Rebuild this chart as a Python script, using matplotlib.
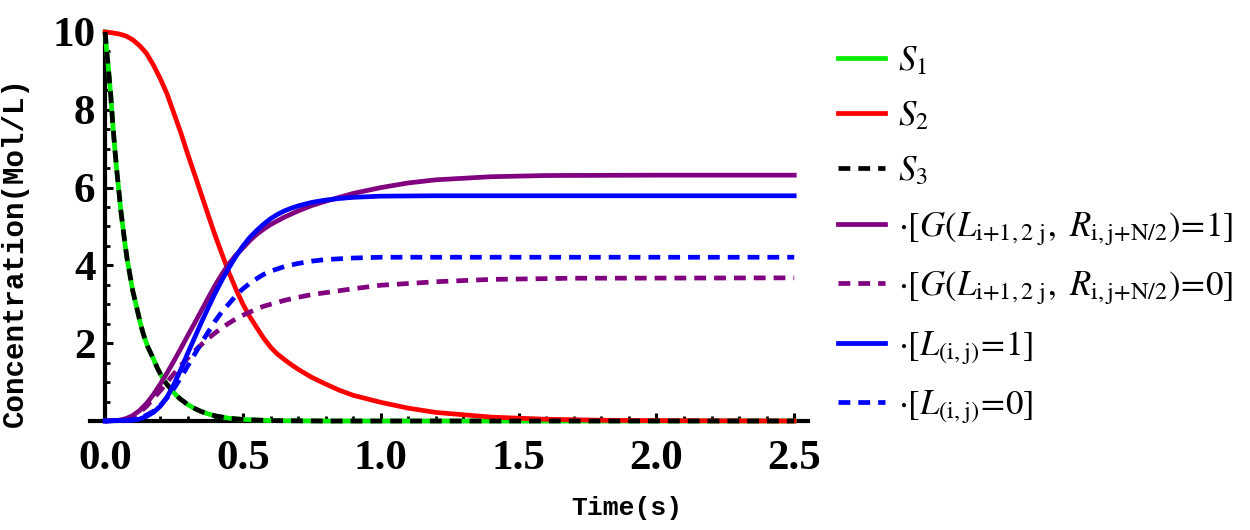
import matplotlib
matplotlib.use('Agg')
import matplotlib.pyplot as plt
from matplotlib.ticker import MultipleLocator, FixedLocator

plt.rcParams['mathtext.fontset'] = 'stix'
plt.rcParams['font.family'] = ['Liberation Serif', 'DejaVu Serif']

## DATA ##

t_s = [0, 0.005, 0.01, 0.015, 0.02, 0.027, 0.035, 0.042, 0.05, 0.057, 0.065,
       0.072, 0.08, 0.09, 0.1, 0.11, 0.12, 0.13, 0.14, 0.155, 0.165, 0.175,
       0.19, 0.205, 0.22, 0.235, 0.25, 0.27, 0.3, 0.325, 0.35, 0.375, 0.4,
       0.45, 0.5, 0.6, 0.8, 1.2, 2.5]
s1 = [10, 9.55, 9.2, 8.8, 8.4, 7.7, 7.0, 6.45, 5.9, 5.4, 4.95,
      4.55, 4.15, 3.75, 3.35, 3.05, 2.75, 2.45, 2.2, 1.9, 1.75, 1.6,
      1.35, 1.15, 0.98, 0.85, 0.72, 0.58, 0.42, 0.32, 0.24, 0.18, 0.13,
      0.07, 0.04, 0.01, 0.0, 0.0, 0.0]
s3 = list(s1)

t_s2 = [0, 0.025, 0.05, 0.075, 0.1, 0.125, 0.15, 0.175, 0.2, 0.225, 0.25,
        0.275, 0.3, 0.325, 0.35, 0.375, 0.4, 0.425, 0.45, 0.475, 0.5, 0.525,
        0.55, 0.575, 0.6, 0.625, 0.65, 0.675, 0.7, 0.75, 0.8, 0.85, 0.9, 1.0,
        1.1, 1.2, 1.4, 1.6, 1.8, 2.0, 2.5]
s2 = [10, 9.98, 9.95, 9.9, 9.8, 9.65, 9.45, 9.15, 8.8, 8.4, 7.9,
      7.4, 6.85, 6.33, 5.8, 5.27, 4.75, 4.27, 3.8, 3.38, 3.0, 2.68,
      2.4, 2.13, 1.9, 1.72, 1.58, 1.45, 1.33, 1.12, 0.95, 0.79, 0.66, 0.48,
      0.33, 0.22, 0.1, 0.045, 0.02, 0.01, 0.0]

t_g1 = [0, 0.05, 0.075, 0.1, 0.125, 0.15, 0.175, 0.2, 0.225, 0.25, 0.275,
        0.3, 0.325, 0.35, 0.375, 0.4, 0.425, 0.45, 0.475, 0.5, 0.525, 0.55,
        0.575, 0.6, 0.65, 0.7, 0.75, 0.8, 0.9, 1.0, 1.1, 1.2, 1.4, 1.6, 2.0,
        2.5]
g1 = [0, 0.02, 0.06, 0.14, 0.27, 0.45, 0.68, 0.95, 1.24, 1.55, 1.87,
      2.2, 2.52, 2.85, 3.18, 3.5, 3.79, 4.05, 4.27, 4.45, 4.64, 4.8,
      4.93, 5.05, 5.24, 5.4, 5.54, 5.65, 5.85, 6.0, 6.12, 6.2, 6.28, 6.31,
      6.32, 6.32]

t_g0 = [0, 0.05, 0.075, 0.1, 0.125, 0.15, 0.175, 0.2, 0.225, 0.25, 0.275,
        0.3, 0.325, 0.35, 0.375, 0.4, 0.425, 0.45, 0.475, 0.5, 0.525, 0.55,
        0.575, 0.6, 0.65, 0.7, 0.75, 0.8, 0.9, 1.0, 1.2, 1.4, 1.7, 2.5]
g0 = [0, 0.02, 0.05, 0.1, 0.22, 0.38, 0.58, 0.78, 1.0, 1.22, 1.43,
      1.62, 1.8, 1.97, 2.13, 2.27, 2.4, 2.52, 2.63, 2.72, 2.8, 2.88,
      2.95, 3.0, 3.1, 3.18, 3.25, 3.3, 3.4, 3.49, 3.58, 3.64, 3.67, 3.68]

t_l1 = [0, 0.1, 0.125, 0.15, 0.175, 0.2, 0.225, 0.25, 0.275, 0.3, 0.325,
        0.35, 0.375, 0.4, 0.425, 0.45, 0.475, 0.5, 0.525, 0.55, 0.575, 0.6,
        0.625, 0.65, 0.675, 0.7, 0.75, 0.8, 0.85, 0.9, 1.0, 1.2, 2.5]
l1 = [0, 0.02, 0.05, 0.12, 0.22, 0.38, 0.62, 0.95, 1.33, 1.75, 2.15,
      2.55, 2.93, 3.3, 3.64, 3.95, 4.24, 4.5, 4.72, 4.9, 5.06, 5.2,
      5.31, 5.4, 5.47, 5.53, 5.62, 5.68, 5.72, 5.75, 5.78, 5.79, 5.79]

t_l0 = [0, 0.1, 0.125, 0.15, 0.175, 0.2, 0.225, 0.25, 0.275, 0.3, 0.325,
        0.35, 0.375, 0.4, 0.425, 0.45, 0.475, 0.5, 0.525, 0.55, 0.575, 0.6,
        0.65, 0.7, 0.75, 0.8, 0.9, 1.0, 2.5]
l0 = [0, 0.03, 0.07, 0.15, 0.25, 0.4, 0.6, 0.84, 1.12, 1.42, 1.72,
      2.02, 2.3, 2.58, 2.82, 3.02, 3.23, 3.4, 3.54, 3.66, 3.77, 3.85,
      3.97, 4.05, 4.11, 4.15, 4.19, 4.21, 4.21]

labels = [r'$S_1$', r'$S_2$', r'$S_3$',
          r'$\cdot[G(L_{\mathrm{i{+}1,2\ j}},\ R_{\mathrm{i,j{+}N/2}})\!=\!1]$',
          r'$\cdot[G(L_{\mathrm{i{+}1,2\ j}},\ R_{\mathrm{i,j{+}N/2}})\!=\!0]$',
          r'$\cdot[L_{\mathrm{(i,j)}}\!=\!1]$',
          r'$\cdot[L_{\mathrm{(i,j)}}\!=\!0]$']

xticks = [0.0, 0.5, 1.0, 1.5, 2.0, 2.5]
yticks = [2, 4, 6, 8, 10]

## PLOT ##

fig = plt.figure(figsize=(12.5, 5.3), dpi=100)
ax = fig.add_axes([90/1250, 109/530, 718/1250, 389/530])

lw = 3.4
dash = (2.5, 1.7)
h = []
h += ax.plot(t_s, s1, color='#00ee00', lw=lw, clip_on=False)
h += ax.plot(t_s2, s2, color='#ff0000', lw=lw, clip_on=False)
h += ax.plot(t_s, s3, color='black', lw=lw, dashes=dash, clip_on=False)
h += ax.plot(t_g1, g1, color='#800080', lw=lw, clip_on=False)
h += ax.plot(t_g0, g0, color='#800080', lw=lw, dashes=dash, clip_on=False)
h += ax.plot(t_l1, l1, color='#0000ff', lw=lw, clip_on=False)
h += ax.plot(t_l0, l0, color='#0000ff', lw=lw, dashes=dash, clip_on=False)

ax.set_xlim(-0.055, 2.55)
ax.set_ylim(0, 10)
for s in ['top', 'right']:
  ax.spines[s].set_visible(False)
ax.spines['left'].set_position(('data', 0))
ax.spines['bottom'].set_position(('data', 0))
for s in ['left', 'bottom']:
  ax.spines[s].set_linewidth(3)
  ax.spines[s].set_zorder(1)

ax.xaxis.set_major_locator(FixedLocator(xticks))
ax.xaxis.set_minor_locator(MultipleLocator(0.1))
ax.yaxis.set_major_locator(FixedLocator(yticks))
ax.yaxis.set_minor_locator(MultipleLocator(0.5))
ax.set_xticklabels(['%.1f' % v for v in xticks])
ax.set_yticklabels(['%d' % v for v in yticks])
ax.tick_params(which='major', direction='in', length=6, width=2.2,
               labelsize=31)
ax.tick_params(which='minor', direction='in', length=3.5, width=2)
ax.tick_params(axis='x', pad=14)
ax.tick_params(axis='y', pad=7)
for lab in ax.get_xticklabels() + ax.get_yticklabels():
  lab.set_fontweight('bold')

ax.set_xlabel('Time(s)', family='Liberation Mono', fontweight='bold',
              fontsize=19, va='center')
ax.xaxis.set_label_coords(0.748, -0.224)
ax.set_ylabel('Concentration(Mol/L)', family='Liberation Mono',
              fontweight='bold', fontsize=21, va='center')
ax.yaxis.set_label_coords(-0.1045, 0.434)

ax.legend(h, labels, loc='upper left', bbox_to_anchor=(838/1250, 1 - 45/530),
          bbox_transform=fig.transFigure, frameon=False, fontsize=25,
          handlelength=1.35, handletextpad=0.38, labelspacing=0.64,
          borderpad=0, borderaxespad=0)

fig.savefig('out.png', dpi=100)
